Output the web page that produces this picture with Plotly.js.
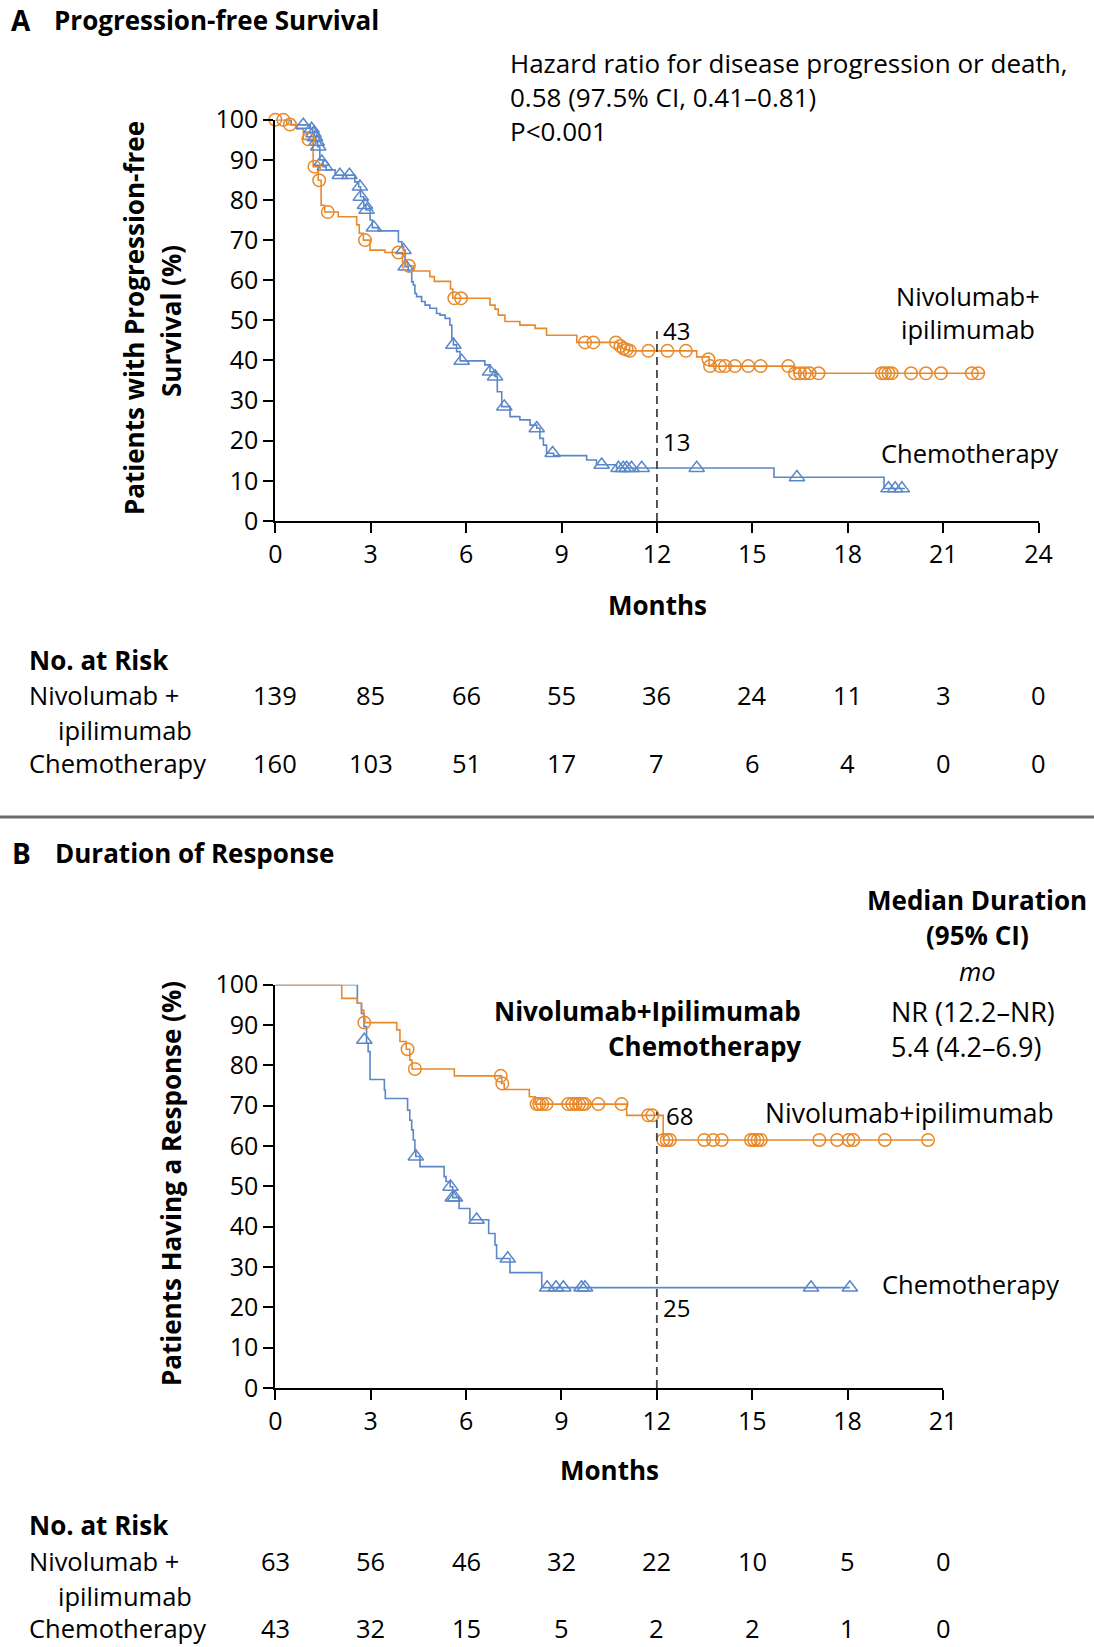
<!DOCTYPE html>
<html>
<head>
<meta charset="utf-8">
<script src="https://cdn.plot.ly/plotly-3.0.1.min.js"></script>
<style>html,body{margin:0;padding:0;background:#fff;}#chart{width:1094px;height:1647px;}</style>
</head>
<body>
<div id="chart"></div>
<script>
// ---------------- DATA ----------------
// Panel A: Progression-free survival (steps)
const pfsNivoT = [0, 0.36, 0.67, 0.88, 1.19, 1.35, 1.44, 1.55, 1.98, 2.56, 2.64, 2.77, 2.98, 3.45, 4.0, 4.15, 4.35, 4.86, 5.0, 5.51, 5.58, 6.75, 6.91, 7.01, 7.22, 7.69, 8.17, 8.53, 9.48, 10.78, 10.9, 11.0, 11.1, 13.25, 13.64, 16.3, 22.3];
const pfsNivoS = [100, 98.8, 97.7, 95.1, 88.3, 84.9, 78.7, 77.0, 75.8, 73.8, 71.7, 70.0, 67.5, 66.9, 64.6, 63.6, 62.3, 60.9, 59.7, 57.8, 55.5, 53.8, 52.8, 51.3, 49.7, 48.8, 48.0, 46.3, 44.5, 43.6, 43.0, 42.7, 42.4, 40.9, 38.6, 36.8, 36.8];
const pfsNivoCensT = [0.0, 0.25, 0.46, 1.04, 1.23, 1.38, 1.65, 2.82, 3.87, 4.2, 5.63, 5.84, 9.74, 10.0, 10.71, 10.85, 10.95, 11.05, 11.15, 11.73, 12.33, 12.91, 13.62, 13.67, 13.98, 14.14, 14.45, 14.87, 15.26, 16.13, 16.34, 16.5, 16.65, 16.8, 17.08, 19.07, 19.17, 19.28, 19.38, 19.99, 20.46, 20.93, 21.9, 22.1];
const pfsNivoCensS = [100, 100, 98.8, 95.1, 88.3, 84.9, 77.0, 70.0, 66.9, 63.6, 55.5, 55.5, 44.5, 44.5, 44.5, 43.6, 43.0, 42.7, 42.4, 42.4, 42.4, 42.4, 40.3, 38.6, 38.6, 38.6, 38.6, 38.6, 38.6, 38.6, 36.8, 36.8, 36.8, 36.8, 36.8, 36.8, 36.8, 36.8, 36.8, 36.8, 36.8, 36.8, 36.8, 36.8];

const pfsChemoT = [0, 0.5, 1.1, 1.18, 1.23, 1.28, 1.33, 1.4, 1.5, 1.6, 1.88, 2.5, 2.62, 2.68, 2.78, 2.85, 2.98, 3.05, 3.24, 3.87, 3.98, 4.03, 4.08, 4.18, 4.29, 4.34, 4.39, 4.44, 4.6, 4.71, 4.86, 5.07, 5.18, 5.34, 5.49, 5.55, 5.6, 5.7, 5.81, 6.59, 6.75, 6.91, 6.98, 7.12, 7.38, 7.69, 8.01, 8.22, 8.32, 8.43, 8.53, 8.75, 9.79, 10.1, 10.73, 15.68, 19.14, 19.8];
const pfsChemoS = [100, 98.7, 97.7, 96.6, 95.6, 94.5, 93.3, 90.0, 88.3, 87.5, 86.2, 84.5, 83.3, 80.8, 78.7, 77.5, 75.0, 73.1, 72.3, 69.6, 68.4, 67.5, 63.4, 62.1, 59.6, 58.8, 56.7, 55.9, 54.7, 53.8, 53.0, 51.7, 51.3, 50.5, 48.8, 45.5, 43.9, 42.2, 39.9, 38.9, 37.2, 36.0, 32.2, 28.5, 26.0, 25.2, 23.9, 23.1, 20.6, 18.9, 16.9, 16.3, 15.2, 14.0, 13.2, 10.9, 8.1, 8.1];
const pfsChemoCensT = [0.88, 1.14, 1.2, 1.25, 1.3, 1.35, 1.46, 1.56, 2.03, 2.33, 2.66, 2.69, 2.82, 2.87, 3.1, 4.03, 4.1, 5.6, 5.86, 6.75, 6.91, 7.2, 8.22, 8.72, 10.26, 10.79, 10.94, 11.05, 11.2, 11.52, 13.25, 16.4, 19.28, 19.49, 19.7];
const pfsChemoCensS = [98.7, 97.7, 96.6, 95.6, 94.5, 93.3, 89.5, 88.3, 86.2, 86.2, 83.3, 80.8, 78.7, 77.5, 73.1, 67.5, 63.4, 43.9, 39.9, 37.2, 36.0, 28.5, 23.1, 16.9, 14.0, 13.2, 13.2, 13.2, 13.2, 13.2, 13.2, 10.9, 8.1, 8.1, 8.1];

// Panel B: Duration of response (steps)
const dorNivoT = [0, 2.09, 2.58, 2.71, 2.78, 2.82, 3.82, 3.92, 4.12, 4.23, 4.3, 5.63, 7.12, 7.2, 7.99, 8.17, 11.05, 12.2, 20.68];
const dorNivoS = [100, 96.6, 95.4, 93.7, 92.0, 90.6, 88.8, 85.9, 84.0, 81.3, 79.1, 77.4, 75.5, 74.0, 72.2, 70.4, 67.6, 61.5, 61.5];
const dorNivoCensT = [2.8, 4.16, 4.39, 7.09, 7.14, 8.22, 8.3, 8.4, 8.53, 9.21, 9.34, 9.45, 9.55, 9.66, 9.73, 10.16, 10.89, 11.73, 11.86, 12.2, 12.31, 12.41, 13.49, 13.77, 14.04, 14.96, 15.06, 15.17, 15.27, 17.11, 17.67, 18.03, 18.18, 19.17, 20.53];
const dorNivoCensS = [90.6, 84.0, 79.1, 77.4, 75.5, 70.4, 70.4, 70.4, 70.4, 70.4, 70.4, 70.4, 70.4, 70.4, 70.4, 70.4, 70.4, 67.6, 67.6, 61.5, 61.5, 61.5, 61.5, 61.5, 61.5, 61.5, 61.5, 61.5, 61.5, 61.5, 61.5, 61.5, 61.5, 61.5, 61.5];

const dorChemoT = [0, 2.58, 2.71, 2.79, 2.87, 2.92, 2.98, 3.43, 3.46, 4.16, 4.23, 4.29, 4.34, 4.39, 4.42, 4.55, 5.31, 5.37, 5.5, 5.58, 5.78, 6.12, 6.71, 6.91, 6.96, 7.38, 8.38, 18.07];
const dorChemoS = [100, 95.4, 92.9, 89.6, 85.5, 83.4, 76.5, 73.9, 71.8, 68.9, 66.4, 64.0, 61.5, 59.0, 57.4, 54.9, 52.4, 51.2, 49.9, 47.2, 44.5, 41.7, 38.3, 35.5, 32.1, 28.6, 24.9, 24.9];
const dorChemoCensT = [2.8, 4.42, 5.51, 5.58, 5.65, 6.33, 7.31, 8.55, 8.83, 9.06, 9.63, 9.74, 16.85, 18.07];
const dorChemoCensS = [86.3, 57.4, 49.9, 47.2, 47.2, 41.7, 32.1, 24.9, 24.9, 24.9, 24.9, 24.9, 24.9, 24.9];

// Numbers at risk
const riskMonthsA = [0, 3, 6, 9, 12, 15, 18, 21, 24];
const riskNivoA = [139, 85, 66, 55, 36, 24, 11, 3, 0];
const riskChemoA = [160, 103, 51, 17, 7, 6, 4, 0, 0];
const riskMonthsB = [0, 3, 6, 9, 12, 15, 18, 21];
const riskNivoB = [63, 56, 46, 32, 22, 10, 5, 0];
const riskChemoB = [43, 32, 15, 5, 2, 2, 1, 0];

const yTicks = [0, 10, 20, 30, 40, 50, 60, 70, 80, 90, 100];
const landmarkA = {nivo: "43", chemo: "13"};
const landmarkB = {nivo: "68", chemo: "25"};

// ---------------- STYLE ----------------
const W = 1094, H = 1647;
const ORANGE = '#E8892B', BLUE = '#5B87C8';
const FONT = '"Open Sans", "DejaVu Sans", sans-serif';
const REG = 25.5, BOLD = 26;
const px = v => v / W;
const py = v => 1 - v / H;

function stepTrace(t, s, color, xa, ya) {
  return {x: t, y: s, mode: 'lines', line: {shape: 'hv', color: color, width: 1.6},
    xaxis: xa, yaxis: ya, hoverinfo: 'skip', showlegend: false, cliponaxis: false};
}
function censTrace(t, s, color, symbol, size, xa, ya) {
  return {x: t, y: s, mode: 'markers',
    marker: {symbol: symbol, size: size, color: color, line: {color: color, width: 1.5}},
    xaxis: xa, yaxis: ya, hoverinfo: 'skip', showlegend: false, cliponaxis: false};
}

const traces = [
  stepTrace(pfsChemoT, pfsChemoS, BLUE, 'x', 'y'),
  stepTrace(pfsNivoT, pfsNivoS, ORANGE, 'x', 'y'),
  censTrace(pfsChemoCensT, pfsChemoCensS, BLUE, 'triangle-up-open', 13.5, 'x', 'y'),
  censTrace(pfsNivoCensT, pfsNivoCensS, ORANGE, 'circle-open', 12.5, 'x', 'y'),
  stepTrace(dorChemoT, dorChemoS, BLUE, 'x2', 'y2'),
  stepTrace(dorNivoT, dorNivoS, ORANGE, 'x2', 'y2'),
  censTrace(dorChemoCensT, dorChemoCensS, BLUE, 'triangle-up-open', 13.5, 'x2', 'y2'),
  censTrace(dorNivoCensT, dorNivoCensS, ORANGE, 'circle-open', 12.5, 'x2', 'y2')
];

const axisCommon = {
  showline: true, linecolor: '#000', linewidth: 2, ticks: 'outside', ticklen: 10,
  tickwidth: 2, tickcolor: '#000', showgrid: false, zeroline: false,
  tickfont: {family: FONT, size: 25, color: '#000'}, fixedrange: true
};

const annotations = [];
function ann(text, x, y, opts) {
  annotations.push(Object.assign({
    text: text, x: px(x), y: py(y), xref: 'paper', yref: 'paper',
    showarrow: false, xanchor: 'left', yanchor: 'middle',
    font: {family: FONT, size: REG, color: '#000'}
  }, opts || {}));
}
const bold = (sz) => ({family: FONT, size: sz, color: '#000', weight: 700});
const reg = (sz) => ({family: FONT, size: sz, color: '#000'});

// Panel A texts
ann('<b>A</b>', 10, 0, {font: bold(28), yanchor: 'top', borderpad: 0});
ann('<b>Progression-free Survival</b>', 53, 0, {font: bold(26), yanchor: 'top', borderpad: 0, yshift: -1});
ann('Hazard ratio for disease progression or death,', 508, 63, {font: reg(26)});
ann('0.58 (97.5% CI, 0.41\u20130.81)', 508, 97, {font: reg(26)});
ann('P<0.001', 508, 131, {font: reg(26)});
ann('<b>Patients with Progression-free</b>', 134, 318, {xanchor: 'center', textangle: -90, font: bold(BOLD)});
ann('<b>Survival (%)</b>', 171, 321, {xanchor: 'center', textangle: -90, font: bold(BOLD)});
ann('<b>Months</b>', 657, 605, {xanchor: 'center', font: bold(BOLD)});
ann('Nivolumab+', 968, 296, {xanchor: 'center'});
ann('ipilimumab', 968, 329, {xanchor: 'center'});
ann('Chemotherapy', 969, 453, {xanchor: 'center'});
annotations.push({text: landmarkA.nivo, x: 12, y: 42.4, xref: 'x', yref: 'y', xanchor: 'left', yanchor: 'bottom',
  xshift: 4, yshift: 2, showarrow: false, font: reg(24)});
annotations.push({text: landmarkA.chemo, x: 12, y: 13.2, xref: 'x', yref: 'y', xanchor: 'left', yanchor: 'bottom',
  xshift: 4, yshift: 8, showarrow: false, font: reg(24)});
ann('<b>No. at Risk</b>', 27, 660, {font: bold(BOLD)});
ann('Nivolumab +', 27, 695);
ann('ipilimumab', 56, 730);
ann('Chemotherapy', 27, 763);
riskMonthsA.forEach((m, i) => {
  annotations.push({text: String(riskNivoA[i]), x: m, y: py(695), xref: 'x', yref: 'paper', xanchor: 'center', yanchor: 'middle',
    showarrow: false, font: reg(REG)});
  annotations.push({text: String(riskChemoA[i]), x: m, y: py(763), xref: 'x', yref: 'paper', xanchor: 'center', yanchor: 'middle',
    showarrow: false, font: reg(REG)});
});

// Panel B texts
ann('<b>B</b>', 10, 853, {font: bold(28)});
ann('<b>Duration of Response</b>', 53, 853, {font: bold(26)});
ann('<b>Median Duration</b>', 977, 900, {xanchor: 'center', font: bold(BOLD)});
ann('<b>(95% CI)</b>', 977, 935, {xanchor: 'center', font: bold(BOLD)});
ann('<i>mo</i>', 977, 971, {xanchor: 'center'});
ann('<b>Nivolumab+Ipilimumab</b>', 803, 1011, {xanchor: 'right', font: bold(BOLD)});
ann('<b>Chemotherapy</b>', 803, 1046, {xanchor: 'right', font: bold(BOLD)});
ann('NR (12.2\u2013NR)', 889, 1011, {font: reg(27)});
ann('5.4 (4.2\u20136.9)', 889, 1046, {font: reg(27)});
ann('Nivolumab+ipilimumab', 763, 1113, {font: reg(26.5)});
ann('Chemotherapy', 880, 1284);
ann('<b>Patients Having a Response (%)</b>', 171, 1184, {xanchor: 'center', textangle: -90, font: bold(BOLD)});
ann('<b>Months</b>', 609, 1470, {xanchor: 'center', font: bold(BOLD)});
annotations.push({text: landmarkB.nivo, x: 12, y: 67.6, xref: 'x2', yref: 'y2', xanchor: 'left', yanchor: 'middle',
  xshift: 7, yshift: 0, showarrow: false, font: reg(24)});
annotations.push({text: landmarkB.chemo, x: 12, y: 24.9, xref: 'x2', yref: 'y2', xanchor: 'left', yanchor: 'top',
  xshift: 4, yshift: -1, showarrow: false, font: reg(24)});
ann('<b>No. at Risk</b>', 27, 1525, {font: bold(BOLD)});
ann('Nivolumab +', 27, 1561);
ann('ipilimumab', 56, 1596);
ann('Chemotherapy', 27, 1628);
riskMonthsB.forEach((m, i) => {
  annotations.push({text: String(riskNivoB[i]), x: m, y: py(1561), xref: 'x2', yref: 'paper', xanchor: 'center', yanchor: 'middle',
    showarrow: false, font: reg(REG)});
  annotations.push({text: String(riskChemoB[i]), x: m, y: py(1628), xref: 'x2', yref: 'paper', xanchor: 'center', yanchor: 'middle',
    showarrow: false, font: reg(REG)});
});

const shapes = [
  {type: 'line', xref: 'x', yref: 'y', x0: 12, x1: 12, y0: 0, y1: 48.5, line: {color: '#444', width: 1.8, dash: '8px,5px'}},
  {type: 'line', xref: 'x2', yref: 'y2', x0: 12, x1: 12, y0: 0, y1: 68.5, line: {color: '#444', width: 1.8, dash: '8px,5px'}},
  {type: 'line', xref: 'paper', yref: 'paper', x0: 0, x1: 1, y0: py(817), y1: py(817), line: {color: '#6b6b6b', width: 3}}
];

const layout = {
  width: W, height: H, margin: {l: 0, r: 0, t: 0, b: 0},
  paper_bgcolor: '#fff', plot_bgcolor: 'rgba(0,0,0,0)', showlegend: false,
  font: {family: FONT, color: '#000'},
  xaxis: Object.assign({}, axisCommon, {domain: [px(275.3), px(1038.6)], range: [0, 24], tickvals: riskMonthsA, anchor: 'y', ticklabelstandoff: 0}),
  yaxis: Object.assign({}, axisCommon, {domain: [py(521), py(119.7)], range: [0, 100], tickvals: yTicks, anchor: 'x'}),
  xaxis2: Object.assign({}, axisCommon, {domain: [px(275.3), px(943)], range: [0, 21], tickvals: riskMonthsB, anchor: 'y2', ticklabelstandoff: 0}),
  yaxis2: Object.assign({}, axisCommon, {domain: [py(1388), py(984.7)], range: [0, 100], tickvals: yTicks, anchor: 'x2'}),
  annotations: annotations, shapes: shapes
};

Plotly.newPlot('chart', traces, layout, {staticPlot: true, displayModeBar: false});
</script>
</body>
</html>
